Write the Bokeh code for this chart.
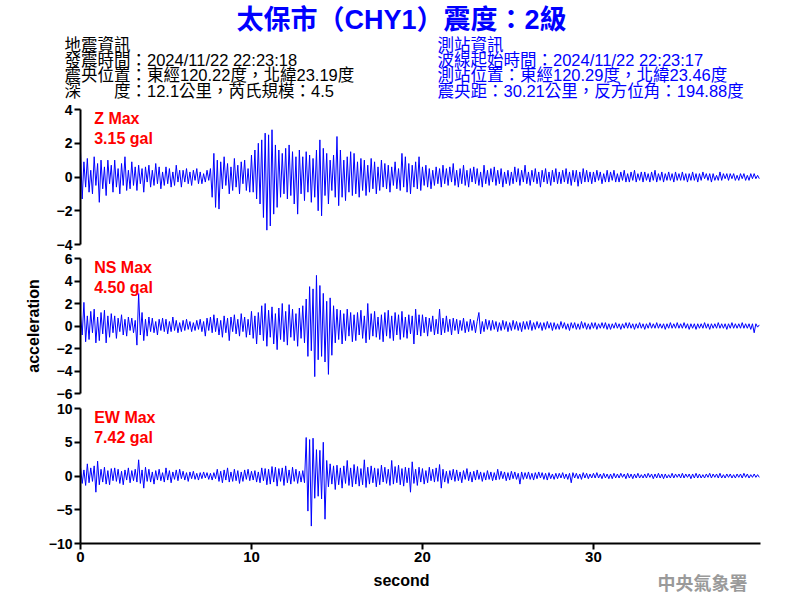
import numpy as np
from bokeh.plotting import figure
from bokeh.layouts import column
from bokeh.models import Range1d, FixedTicker, Label
from bokeh.embed import file_html
from bokeh.resources import INLINE

# ---------------- data ----------------
SAMPLE_DT = 0.1  # seconds between samples

z_acc = [
    1.5, -1.3, 0.9, -0.6, 1.1, -0.9, 0.4, -1.0, 1.2, -0.5,
    0.8, -1.5, 1.0, -0.7, 0.6, -1.1, 1.0, -0.4, 0.7, -0.9,
    1.0, -0.6, 0.5, -1.0, 0.8, -0.5, 1.2, -0.8, 0.4, -0.7,
    0.9, -0.5, 0.6, -0.8, 0.7, -0.4, 0.5, -0.9, 0.6, -0.3,
    0.7, -0.6, 0.4, -0.5, 0.8, -0.4, 0.6, -0.7, 0.3, -0.5,
    0.6, -0.4, 0.5, -0.6, 0.3, -0.5, 0.7, -0.3, 0.4, -0.6,
    0.4, -0.3, 0.5, -0.4, 0.3, -0.5, 0.4, -0.2, 0.5, -0.4,
    0.3, -0.4, 0.2, -0.3, 0.4, -0.2, 0.5, -1.2, 1.4, -1.8,
    1.0, -1.9, 0.9, -0.7, 1.2, -0.5, 0.8, -1.0, 0.6, -0.8,
    1.1, -0.6, 0.7, -1.0, 0.9, -0.4, 1.0, -0.8, 0.5, -0.9,
    1.3, -0.9, 1.6, -1.3, 2.0, -1.6, 2.2, -2.4, 2.6, -3.15,
    2.5, -2.9, 2.8, -2.2, 1.9, -1.8, 1.6, -1.2, 1.4, -1.0,
    1.7, -1.3, 1.9, -1.1, 1.5, -1.6, 1.2, -2.2, 1.6, -1.0,
    1.2, -1.4, 1.5, -0.9, 1.3, -1.5, 1.1, -1.2, 1.6, -2.0,
    2.2, -2.3, 1.7, -1.1, 1.4, -1.6, 1.0, -0.8, 1.3, -1.2,
    2.4, -1.7, 1.6, -1.2, 1.0, -1.4, 1.2, -0.9, 1.5, -1.1,
    1.4, -1.0, 0.9, -1.2, 1.1, -0.8, 1.0, -1.1, 0.7, -0.9,
    1.1, -0.7, 0.9, -1.0, 0.6, -0.8, 1.0, -0.6, 0.8, -0.7,
    0.7, -0.9, 0.6, -0.5, 0.9, -0.7, 0.5, -0.8, 1.4, -0.6,
    1.2, -0.9, 0.8, -1.0, 0.7, -0.6, 0.9, -0.7, 1.2, -0.8,
    0.6, -0.5, 0.7, -0.6, 0.5, -0.7, 0.4, -0.5, 0.6, -0.4,
    0.5, -0.6, 0.7, -0.4, 0.5, -0.5, 0.6, -0.3, 0.8, -0.5,
    0.4, -0.6, 0.5, -0.4, 0.7, -0.5, 0.4, -0.6, 0.5, -0.3,
    0.6, -0.4, 0.5, -0.5, 0.3, -0.6, 0.7, -0.4, 0.4, -0.5,
    0.5, -0.3, 0.6, -0.5, 0.4, -0.4, 0.5, -0.6, 0.3, -0.4,
    0.4, -0.5, 0.3, -0.4, 0.6, -0.3, 0.5, -0.5, 0.4, -0.3,
    0.7, -0.4, 0.3, -0.5, 0.4, -0.3, 0.5, -0.4, 0.3, -0.6,
    0.4, -0.3, 0.5, -0.4, 0.3, -0.5, 0.4, -0.3, 0.5, -0.4,
    0.3, -0.4, 0.4, -0.3, 0.5, -0.4, 0.3, -0.5, 0.4, -0.3,
    0.4, -0.55, 0.3, -0.4, 0.5, -0.3, 0.4, -0.3, 0.3, -0.4,
    0.3, -0.3, 0.4, -0.2, 0.3, -0.4, 0.2, -0.3, 0.4, -0.3,
    0.3, -0.2, 0.4, -0.3, 0.2, -0.3, 0.3, -0.2, 0.4, -0.3,
    0.2, -0.3, 0.3, -0.2, 0.4, -0.3, 0.2, -0.2, 0.3, -0.3,
    0.3, -0.2, 0.2, -0.3, 0.3, -0.2, 0.4, -0.3, 0.2, -0.2,
    0.3, -0.3, 0.2, -0.2, 0.3, -0.2, 0.2, -0.3, 0.3, -0.2,
    0.2, -0.2, 0.3, -0.2, 0.2, -0.3, 0.2, -0.2, 0.3, -0.2,
    0.2, -0.3, 0.2, -0.2, 0.3, -0.1, 0.2, -0.2, 0.2, -0.3,
    0.2, -0.2, 0.1, -0.2, 0.3, -0.2, 0.2, -0.1, 0.2, -0.2,
    0.2, -0.1, 0.2, -0.2, 0.1, -0.2, 0.2, -0.1, 0.2, -0.2,
    0.1, -0.2, 0.2, -0.1, 0.2, -0.1, 0.1, -0.1,
]

ns_acc = [
    1.0, -0.8, 2.1, -1.4, 0.9, -1.2, 1.3, -0.6, 1.5, -1.5,
    0.8, -1.3, 1.2, -0.7, 1.4, -1.5, 0.9, -1.0, 1.1, -0.6,
    0.9, -1.1, 0.7, -0.5, 1.0, -0.8, 0.6, -0.9, 0.8, -0.4,
    0.7, -0.6, 0.5, -1.7, 2.9, -0.8, 1.2, -1.3, 0.6, -0.9,
    0.8, -0.5, 0.7, -0.6, 0.4, -0.8, 0.6, -0.4, 0.7, -0.5,
    0.6, -0.7, 0.4, -0.5, 0.8, -0.4, 0.5, -0.6, 0.3, -0.5,
    0.5, -0.4, 0.6, -0.3, 0.4, -0.5, 0.3, -0.4, 0.5, -0.3,
    0.6, -0.5, 0.4, -0.9, 0.7, -0.4, 0.8, -0.6, 1.0, -0.5,
    0.7, -0.8, 0.5, -1.0, 0.9, -0.6, 0.7, -1.3, 0.8, -0.5,
    1.0, -0.7, 0.6, -0.9, 1.1, -0.5, 0.8, -1.0, 0.6, -0.8,
    1.3, -1.1, 0.9, -1.6, 1.2, -0.8, 1.8, -1.3, 2.0, -1.8,
    1.4, -1.0, 1.7, -1.6, 1.1, -2.1, 1.6, -1.2, 2.0, -1.4,
    1.3, -1.7, 1.9, -1.0, 1.5, -1.3, 1.1, -1.8, 1.6, -1.1,
    1.8, -1.5, 2.4, -2.7, 3.5, -2.2, 3.3, -4.5, 4.5, -3.0,
    3.6, -2.7, 2.9, -3.2, 2.2, -4.3, 2.5, -2.6, 1.8, -1.5,
    1.5, -1.2, 1.4, -1.6, 1.1, -1.3, 1.5, -0.9, 1.2, -1.4,
    1.0, -1.3, 1.2, -0.8, 1.4, -1.1, 0.9, -1.5, 2.0, -1.2,
    1.1, -0.9, 1.3, -1.0, 0.8, -1.2, 1.0, -1.4, 1.2, -0.9,
    1.4, -1.1, 0.9, -1.3, 1.2, -0.8, 1.0, -1.2, 1.3, -1.0,
    0.8, -1.1, 1.0, -0.7, 0.9, -1.6, 1.5, -0.8, 1.0, -0.9,
    1.0, -0.6, 0.8, -0.9, 0.7, -0.5, 0.9, -0.8, 0.6, -0.7,
    1.5, -0.8, 0.7, -0.6, 0.9, -0.5, 0.6, -0.8, 0.7, -0.4,
    0.6, -0.7, 0.5, -0.4, 0.7, -0.6, 0.4, -0.5, 0.6, -0.4,
    0.5, -0.6, 0.4, 1.2, -0.7, 0.4, -0.5, 0.6, -0.3, 0.5,
    -0.4, 0.5, -0.3, 0.4, -0.5, 0.3, -0.4, 0.5, -0.3, 0.4,
    -0.5, 0.3, -0.4, 0.5, -0.3, 0.4, -0.4, 0.3, -0.5, 0.4,
    -0.3, 0.4, -0.3, 0.5, -0.4, 0.3, -0.3, 0.4, -0.2, 0.3,
    -0.4, 0.3, -0.3, 0.4, -0.2, 0.3, -0.4, 0.3, -0.3, 0.2,
    -0.3, 0.4, -0.2, 0.3, -0.3, 0.2, -0.4, 0.3, -0.2, 0.3,
    -0.3, 0.2, -0.3, 0.4, -0.2, 0.3, -0.3, 0.2, -0.3, 0.3,
    -0.2, 0.3, -0.3, 0.2, -0.2, 0.3, -0.2, 0.3, -0.3, 0.2,
    -0.3, 0.2, -0.2, 0.3, -0.2, 0.2, -0.3, 0.2, -0.2, 0.3,
    -0.2, 0.3, -0.2, 0.2, -0.3, 0.2, -0.2, 0.3, -0.2, 0.2,
    -0.3, 0.2, -0.2, 0.3, -0.2, 0.2, -0.2, 0.3, -0.2, 0.2,
    -0.2, 0.2, -0.3, 0.2, -0.2, 0.3, -0.2, 0.2, -0.2, 0.3,
    -0.2, 0.2, -0.2, 0.3, -0.2, 0.2, -0.3, 0.2, -0.2, 0.2,
    -0.3, 0.2, -0.2, 0.2, -0.2, 0.3, -0.2, 0.2, -0.3, 0.2,
    -0.2, 0.2, -0.2, 0.3, -0.2, 0.2, -0.2, 0.2, -0.3, 0.2,
    -0.2, 0.3, -0.2, 0.2, -0.2, 0.2, -0.2, 0.3, -0.2, 0.2,
    -0.2, 0.2, -0.3, 0.2, -0.6, 0.2, -0.1, 0.1,
]

ew_acc = [
    1.3, -1.1, 0.9, -1.4, 1.8, -1.0, 1.2, -0.8, 1.5, -2.4,
    2.2, -1.3, 1.0, -0.9, 1.3, -1.2, 0.8, -1.3, 1.1, -0.7,
    1.2, -0.8, 1.0, -1.1, 0.7, -1.3, 0.9, -0.6, 1.2, -1.0,
    0.8, -0.7, 1.0, -0.9, 2.4, -1.1, 0.9, -1.8, 1.3, -0.8,
    1.0, -0.9, 0.6, -1.2, 0.8, -0.6, 1.0, -0.7, 0.5, -0.9,
    1.2, -0.6, 0.8, -1.0, 0.6, -0.5, 0.9, -0.7, 1.0, -0.4,
    0.7, -0.6, 0.5, -0.8, 0.6, -0.4, 0.7, -0.5, 0.4, -0.6,
    0.5, -0.4, 0.6, -0.3, 0.5, -0.5, 0.4, -0.6, 0.5, -0.4,
    1.0, -0.8, 0.7, -1.0, 0.9, -0.6, 1.2, -0.9, 0.6, -0.8,
    1.0, -0.7, 0.8, -1.1, 0.6, -0.8, 0.9, -0.5, 1.0, -0.7,
    0.7, -0.6, 0.8, -0.9, 0.6, -1.0, 1.2, -0.7, 1.1, -1.3,
    1.0, -1.2, 1.4, -0.9, 1.3, -1.5, 1.1, -0.8, 1.2, -1.4,
    1.5, -1.0, 0.9, -1.2, 1.3, -0.8, 1.0, -1.1, 0.7, -0.9,
    0.8, -1.0, 5.7, -5.2, 5.4, -7.42, 5.6, -3.3, 3.9, -3.0,
    3.8, -3.4, 5.0, -6.4, 2.3, -1.6, 1.8, -1.2, 1.5, -2.0,
    1.6, -1.3, 1.2, -1.8, 1.5, -1.1, 2.3, -1.4, 1.2, -1.6,
    1.7, -1.2, 1.4, -1.5, 1.1, -1.3, 2.4, -1.7, 1.3, -1.2,
    1.5, -1.0, 1.2, -1.6, 1.1, -1.3, 1.6, -0.9, 1.3, -1.1,
    1.0, -1.4, 2.3, -1.2, 1.4, -1.0, 1.6, -1.3, 1.1, -1.5,
    1.3, -1.0, 1.2, -2.4, 2.1, -1.1, 1.0, -1.4, 1.3, -0.9,
    1.1, -1.2, 0.8, -1.0, 1.3, -0.7, 1.0, -0.9, 1.2, -0.8,
    1.7, -1.8, 1.0, -0.9, 0.7, -1.1, 0.8, -0.6, 1.0, -0.8,
    0.9, -0.7, 0.6, -1.0, 0.8, -0.5, 1.1, -0.7, 0.6, -0.9,
    0.7, -0.6, 0.9, -0.5, 0.6, -0.8, 0.5, -0.6, 0.8, -0.5,
    0.6, -0.7, 0.5, -0.6, 1.0, -0.5, 0.7, -0.4, 0.6, -0.7,
    0.5, -0.6, 0.7, -0.4, 0.6, -0.5, 0.4, -1.2, 0.6, -0.5,
    0.5, -0.4, 0.6, -0.5, 0.4, -0.6, 0.5, -0.4, 0.6, -0.3,
    0.5, -0.5, 0.4, -0.6, 0.5, -0.4, 0.3, -0.5, 0.4, -0.4,
    0.4, -0.3, 0.5, -0.4, 0.3, -0.5, 0.4, -1.0, 0.5, -0.3,
    0.4, -0.4, 0.3, -0.5, 0.5, -0.3, 0.4, -0.4, 0.3, -0.3,
    0.4, -0.3, 0.5, -0.3, 0.3, -0.4, 0.4, -0.3, 0.3, -0.4,
    0.3, -0.4, 0.4, -0.3, 0.3, -0.3, 0.4, -0.2, 0.3, -0.4,
    0.4, -0.3, 0.3, -0.4, 0.3, -0.3, 0.4, -0.3, 0.2, -0.3,
    0.3, -0.3, 0.4, -0.2, 0.3, -0.4, 0.3, -0.3, 0.4, -0.3,
    0.3, -0.4, 0.3, -0.3, 0.2, -0.3, 0.4, -0.3, 0.3, -0.2,
    0.3, -0.3, 0.4, -0.3, 0.3, -0.2, 0.3, -0.4, 0.3, -0.3,
    0.4, -0.3, 0.3, -0.3, 0.2, -0.3, 0.3, -0.2, 0.4, -0.3,
    0.3, -0.2, 0.3, -0.3, 0.4, -0.3, 0.2, -0.3, 0.3, -0.2,
    0.3, -0.3, 0.2, -0.3, 0.3, -0.2, 0.3, -0.3, 0.4, -0.2,
    0.3, -0.3, 0.2, -0.2, 0.3, -0.2, 0.2, -0.2,
]

channel_names = ["Z", "NS", "EW"]
channel_max = ["3.15", "4.50", "7.42"]
y_limits = [4, 6, 10]
y_tick_values = [[-4, -2, 0, 2, 4], [-6, -4, -2, 0, 2, 4, 6], [-10, -5, 0, 5, 10]]
x_tick_values = [0, 10, 20, 30]
x_max = 39.77

title_text = "太保市（CHY1）震度：2級"
quake_info = ["地震資訊",
              "發震時間：2024/11/22 22:23:18",
              "震央位置：東經120.22度，北緯23.19度",
              "深　　度：12.1公里，芮氏規模：4.5"]
station_info = ["測站資訊",
                "波線起始時間：2024/11/22 22:23:17",
                "測站位置：東經120.29度，北緯23.46度",
                "震央距：30.21公里，反方位角：194.88度"]
x_label = "second"
y_label = "acceleration"
agency_text = "中央氣象署"

# ---------------- layout constants ----------------
FONT = "Liberation Sans, Arial, Noto Sans CJK TC"
CJK_FONT = "Liberation Sans, Noto Sans CJK TC"
BLUE = "#0000FF"
PAGE_W = 800
HDR_H = 101
FOOT_H = 33
FRAME_W = 680
FRAME_H = 135
LEFT = 80
RIGHT = PAGE_W - LEFT - FRAME_W

xr = Range1d(0, x_max)


def blank_figure(height):
    f = figure(width=PAGE_W, height=height, x_range=Range1d(0, PAGE_W), y_range=Range1d(height, 0),
               output_backend="svg", toolbar_location=None, min_border=0,
               x_axis_location=None, y_axis_location=None)
    f.frame_align = False
    f.outline_line_color = None
    f.xgrid.visible = False
    f.ygrid.visible = False
    return f


# ---------------- header ----------------
hdr = blank_figure(HDR_H)
hdr.add_layout(Label(x=401, y=19, text=title_text, text_align="center", text_baseline="middle",
                     text_font=CJK_FONT, text_font_size="27px", text_font_style="bold",
                     text_color=BLUE))
line_y = [44, 59, 74, 90]
for i, txt in enumerate(quake_info):
    hdr.add_layout(Label(x=64, y=line_y[i], text=txt, text_baseline="middle",
                         text_font=CJK_FONT, text_font_size="16.5px",
                         text_color="black"))
for i, txt in enumerate(station_info):
    hdr.add_layout(Label(x=437, y=line_y[i], text=txt, text_baseline="middle",
                         text_font=CJK_FONT, text_font_size="16.5px",
                         text_color=BLUE))


def style_axis(ax):
    ax.axis_line_width = 2
    ax.axis_line_color = "black"
    ax.major_tick_line_width = 2
    ax.major_tick_line_color = "black"
    ax.major_tick_out = 6
    ax.major_tick_in = 0
    ax.minor_tick_line_color = None
    ax.major_label_text_font = FONT
    ax.major_label_text_font_style = "bold"
    ax.major_label_text_font_size = "14px"
    ax.major_label_text_color = "black"
    ax.major_label_standoff = 2


def make_panel(vals, idx, top, bottom, show_x):
    lim = y_limits[idx]
    p = figure(frame_width=FRAME_W, frame_height=FRAME_H, x_range=xr, y_range=Range1d(-lim, lim),
               output_backend="svg", toolbar_location=None,
               min_border_left=LEFT, min_border_right=RIGHT,
               min_border_top=top, min_border_bottom=bottom,
               x_axis_location="below" if show_x else None, y_axis_location="left")
    p.outline_line_color = None
    p.grid.visible = False
    t = np.arange(len(vals)) * SAMPLE_DT
    p.line(t, vals, line_color=BLUE, line_width=1)
    style_axis(p.yaxis[0])
    p.yaxis[0].ticker = FixedTicker(ticks=y_tick_values[idx])
    if show_x:
        style_axis(p.xaxis[0])
        p.xaxis[0].ticker = FixedTicker(ticks=x_tick_values)
        p.xaxis[0].major_label_text_font_size = "15px"

    def y_below_top(px):
        return lim - px / FRAME_H * (2 * lim)

    p.add_layout(Label(x=0.8, y=y_below_top(9), text=f"{channel_names[idx]} Max",
                       text_baseline="middle", text_font=FONT, text_font_style="bold",
                       text_font_size="16px", text_color="#FF0000"))
    p.add_layout(Label(x=0.8, y=y_below_top(29), text=f"{channel_max[idx]} gal",
                       text_baseline="middle", text_font=FONT, text_font_style="bold",
                       text_font_size="16px", text_color="#FF0000"))
    return p


# frames: Z 109-244, NS 258-393, EW 408-543
pz = make_panel(z_acc, 0, 8, 7, False)
pn = make_panel(ns_acc, 1, 7, 8, False)
pe = make_panel(ew_acc, 2, 7, 22, True)

pn.yaxis[0].axis_label = y_label
pn.yaxis[0].axis_label_text_font = FONT
pn.yaxis[0].axis_label_text_font_style = "bold"
pn.yaxis[0].axis_label_text_font_size = "16px"
pn.yaxis[0].axis_label_text_color = "black"
pn.yaxis[0].axis_label_standoff = 12

# ---------------- footer ----------------
foot = blank_figure(FOOT_H)
foot.add_layout(Label(x=401, y=15, text=x_label, text_align="center", text_baseline="middle",
                      text_font=FONT, text_font_size="16px", text_font_style="bold",
                      text_color="black"))
foot.add_layout(Label(x=702, y=16, text=agency_text, text_align="center", text_baseline="middle",
                      text_font="Noto Sans CJK TC", text_font_size="18px", text_font_style="bold",
                      text_color="#9a9a9a"))

layout = column(hdr, pz, pn, pe, foot, spacing=0)
open("out.html", "w").write(file_html(layout, INLINE))
